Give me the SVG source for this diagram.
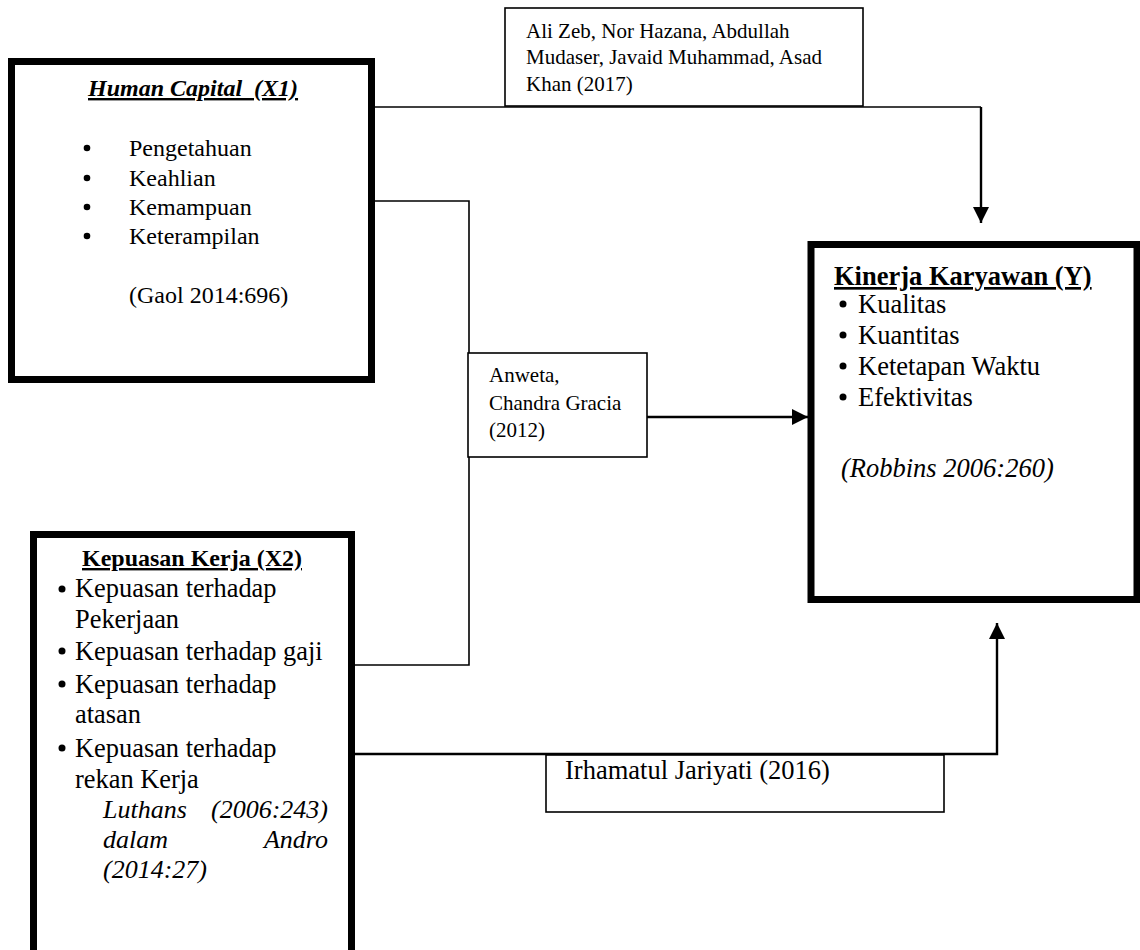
<svg xmlns="http://www.w3.org/2000/svg" width="1140" height="950" viewBox="0 0 1140 950">
<style>
.t{font-family:"Liberation Serif","Times New Roman",serif;fill:#000}
.thick{fill:#fff;stroke:#000;stroke-width:7}
.thin{fill:#fff;stroke:#000;stroke-width:1.6}
.ln{fill:none;stroke:#000;stroke-width:1.6}
.ar{fill:none;stroke:#000;stroke-width:2.4}
</style>
<defs>
<marker id="ah" markerUnits="userSpaceOnUse" markerWidth="16" markerHeight="16" refX="16" refY="8" orient="auto" viewBox="0 0 16 16">
<path d="M0,0 L16,8 L0,16 z" fill="#000"/>
</marker>
</defs>
<rect width="1140" height="950" fill="#fff"/>
<g id="connectors">
<path class="ln" d="M375,107 H981"/>
<path class="ar" d="M981,107 V223" marker-end="url(#ah)"/>
<path class="ln" d="M372,201 H469 V665 H352"/>
<path class="ar" d="M647,417 H808" marker-end="url(#ah)"/>
<path class="ar" d="M355,754 H997 V623" marker-end="url(#ah)"/>
</g>
<g id="x1">
<rect class="thick" x="11.5" y="61.5" width="360" height="318"/>
<text class="t" x="88" y="96" font-size="24" font-weight="bold" font-style="italic" text-decoration="underline" xml:space="preserve">Human Capital  (X1)</text>
<g font-size="24">
<circle cx="87" cy="148" r="3.3"/><text class="t" x="129" y="156" font-size="24">Pengetahuan</text>
<circle cx="87" cy="178" r="3.3"/><text class="t" x="129" y="186" font-size="24">Keahlian</text>
<circle cx="87" cy="207" r="3.3"/><text class="t" x="129" y="215" font-size="24">Kemampuan</text>
<circle cx="87" cy="236" r="3.3"/><text class="t" x="129" y="244" font-size="24">Keterampilan</text>
<text class="t" x="129" y="303" font-size="24">(Gaol 2014:696)</text>
</g>
</g>
<g id="ref1">
<rect class="thin" x="505" y="8" width="358" height="98"/>
<text class="t" x="526" y="38" font-size="21">Ali Zeb, Nor Hazana, Abdullah</text>
<text class="t" x="526" y="64" font-size="21">Mudaser, Javaid Muhammad, Asad</text>
<text class="t" x="526" y="91" font-size="21">Khan (2017)</text>
</g>
<g id="ref2">
<rect class="thin" x="468" y="353" width="179" height="104"/>
<text class="t" x="489" y="382" font-size="21">Anweta,</text>
<text class="t" x="489" y="410" font-size="21">Chandra Gracia</text>
<text class="t" x="489" y="437" font-size="21">(2012)</text>
</g>
<g id="y">
<rect class="thick" x="811" y="244.5" width="326" height="355"/>
<text class="t" x="834" y="285" font-size="26.5" font-weight="bold" text-decoration="underline">Kinerja Karyawan (Y)</text>
<circle cx="843" cy="304" r="3.5"/><text class="t" x="858" y="313" font-size="26.5">Kualitas</text>
<circle cx="843" cy="335" r="3.5"/><text class="t" x="858" y="344" font-size="26.5">Kuantitas</text>
<circle cx="843" cy="366" r="3.5"/><text class="t" x="858" y="375" font-size="26.5">Ketetapan Waktu</text>
<circle cx="843" cy="397" r="3.5"/><text class="t" x="858" y="406" font-size="26.5">Efektivitas</text>
<text class="t" x="841" y="477" font-size="26.5" font-style="italic">(Robbins 2006:260)</text>
</g>
<g id="x2">
<rect class="thick" x="33.5" y="534.5" width="318" height="430"/>
<text class="t" x="82" y="566" font-size="24" font-weight="bold" text-decoration="underline">Kepuasan Kerja (X2)</text>
<circle cx="62" cy="589" r="3.5"/><text class="t" x="75" y="597" font-size="26.4">Kepuasan terhadap</text>
<text class="t" x="75" y="628" font-size="26.4">Pekerjaan</text>
<circle cx="62" cy="651" r="3.5"/><text class="t" x="75" y="660" font-size="26.4">Kepuasan terhadap gaji</text>
<circle cx="62" cy="684" r="3.5"/><text class="t" x="75" y="693" font-size="26.4">Kepuasan terhadap</text>
<text class="t" x="75" y="723" font-size="26.4">atasan</text>
<circle cx="62" cy="748" r="3.5"/><text class="t" x="75" y="757" font-size="26.4">Kepuasan terhadap</text>
<text class="t" x="75" y="788" font-size="26.4">rekan Kerja</text>
<text class="t" x="103" y="818" font-size="26" font-style="italic">Luthans</text>
<text class="t" x="328" y="818" font-size="26" font-style="italic" text-anchor="end">(2006:243)</text>
<text class="t" x="103" y="848" font-size="26" font-style="italic">dalam</text>
<text class="t" x="328" y="848" font-size="26" font-style="italic" text-anchor="end">Andro</text>
<text class="t" x="103" y="878" font-size="26" font-style="italic">(2014:27)</text>
</g>
<g id="ref3">
<rect class="thin" x="546" y="755" width="398" height="57"/>
<text class="t" x="565" y="779" font-size="26.5">Irhamatul Jariyati (2016)</text>
</g>
</svg>
